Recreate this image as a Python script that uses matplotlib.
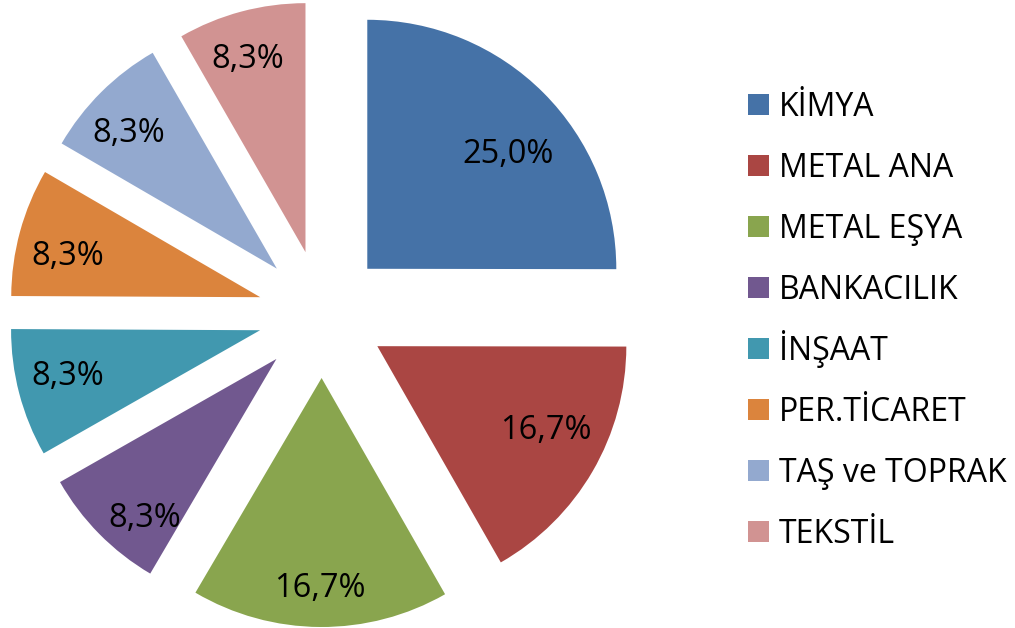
import numpy as np
import matplotlib.pyplot as plt
from matplotlib.patches import Rectangle

# sector shares (%)
sectors = ["KİMYA", "METAL ANA", "METAL EŞYA", "BANKACILIK",
           "İNŞAAT", "PER.TİCARET", "TAŞ ve TOPRAK", "TEKSTİL"]
shares = [25.0, 16.7, 16.7, 8.3, 8.3, 8.3, 8.3, 8.3]
colors = ["#4572A7", "#AA4643", "#89A54E", "#71588F",
          "#4198AF", "#DB843D", "#93A9CF", "#D19392"]

# label placement (fraction of radius from slice tip, angle nudge in deg)
lab_r = [0.736, 0.752, 0.833, 0.822, 0.792, 0.791, 0.815, 0.82]
lab_da = [-5, 4.5, 0, 5.2, -2, 2.4, 2.1, 1.6]

plt.rcParams['font.family'] = ['Open Sans', 'DejaVu Sans']

fig = plt.figure(figsize=(10.15, 6.28), dpi=100)
ax = fig.add_axes([0, 0, 1, 1])

cx, cy, R, expl = 322, 314, 249, 64
wedges, _ = ax.pie(shares, colors=colors, explode=[expl] * len(shares),
                   center=(cx, cy), radius=R, startangle=90,
                   counterclock=False, normalize=True,
                   wedgeprops=dict(linewidth=0))
ax.set_xlim(0, 1015)
ax.set_ylim(0, 628)
ax.set_aspect('equal')
ax.axis('off')

# percentage labels, comma decimal
total = sum(shares)
cap = 11.6  # half cap height in px
for w, v, r, da in zip(wedges, shares, lab_r, lab_da):
    m = np.deg2rad((w.theta1 + w.theta2) / 2)
    tx, ty = w.center
    a = m + np.deg2rad(da)
    x = tx + r * R * np.cos(a)
    y = ty + r * R * np.sin(a)
    txt = f"{100 * v / total:.1f}%".replace('.', ',')
    ax.text(x, y - cap, txt, ha='center', va='baseline', fontsize=23.5)

# legend
ytop, step = 628 - 104, 61.1
for i, (name, c) in enumerate(zip(sectors, colors)):
    yc = ytop - i * step
    ax.add_patch(Rectangle((748, yc - 10.5), 21, 21, color=c, lw=0))
    ax.text(779, yc - 11.5, name, ha='left', va='baseline', fontsize=23)

fig.savefig("out.png", dpi=100)
